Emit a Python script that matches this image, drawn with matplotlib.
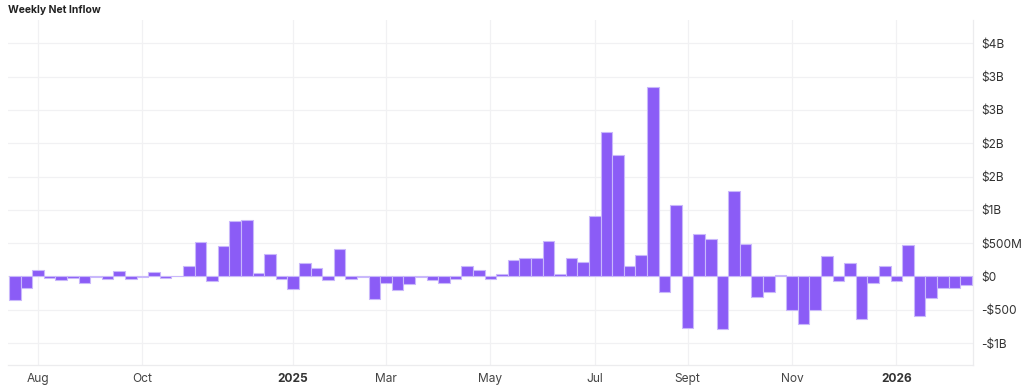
import pandas as pd
import matplotlib.pyplot as plt

plt.rcParams['font.family'] = ['Inter', 'DejaVu Sans']

# weekly net inflow, billions USD, weeks starting Mon 2024-07-22
weeks = pd.date_range('2024-07-22', periods=83, freq='7D')
inflow = [
    -0.35, -0.175, 0.10, -0.02, -0.05, -0.02, -0.10, -0.015, -0.04, 0.08,
    -0.04, -0.01, 0.07, -0.03, 0.01, 0.15, 0.51, -0.075, 0.46, 0.83,
    0.85, 0.05, 0.34, -0.045, -0.19, 0.205, 0.13, -0.05, 0.415, -0.04,
    -0.01, -0.335, -0.105, -0.20, -0.11, -0.01, -0.06, -0.095, -0.04, 0.15,
    0.10, -0.04, 0.04, 0.25, 0.28, 0.28, 0.53, 0.04, 0.28, 0.21,
    0.90, 2.17, 1.83, 0.15, 0.32, 2.84, -0.23, 1.075, -0.78, 0.63,
    0.555, -0.79, 1.29, 0.49, -0.305, -0.24, 0.015, -0.50, -0.72, -0.50,
    0.31, -0.07, 0.205, -0.64, -0.105, 0.16, -0.07, 0.47, -0.60, -0.33,
    -0.17, -0.17, -0.125,
]

y_ticks = [-1, -0.5, 0, 0.5, 1, 1.5, 2, 2.5, 3, 3.5]
y_labels = ['-$1B', '-$500', '$0', '$500M', '$1B', '$2B', '$2B', '$3B', '$3B', '$4B']

# x ticks: first week of every second month
tick_months = ['2024-08', '2024-10', '2025-01', '2025-03', '2025-05',
               '2025-07', '2025-09', '2025-11', '2026-01']
tick_labels = ['Aug', 'Oct', '2025', 'Mar', 'May', 'Jul', 'Sept', 'Nov', '2026']

month_str = weeks.strftime('%Y-%m')
tick_pos = [list(month_str).index(m) for m in tick_months]

fig = plt.figure(figsize=(10.24, 3.92), dpi=100)
ax = fig.add_axes([8 / 1024, 27 / 392, 965 / 1024, 345 / 392])

x = list(range(len(inflow)))
ax.bar(x, inflow, width=1.0, color='#8b5cf6', edgecolor='#c9b8fb',
       linewidth=0.8, zorder=3)

ax.set_xlim(-0.59, 82.6)
ax.set_ylim(-1.33, 3.85)

ax.set_yticks(y_ticks)
ax.set_yticklabels(y_labels)
ax.yaxis.tick_right()
ax.tick_params(axis='y', length=0, pad=6, labelsize=8.6, labelcolor='#333333')

ax.set_xticks(tick_pos)
ax.set_xticklabels(tick_labels)
ax.tick_params(axis='x', length=0, pad=6, labelsize=8.6, labelcolor='#444444')
for lbl in ax.get_xticklabels():
    if lbl.get_text().isdigit():
        lbl.set_fontweight('bold')
        lbl.set_color('#333333')

ax.grid(True, color='#f1f1f3', linewidth=0.9, zorder=0)
for side in ['top', 'left']:
    ax.spines[side].set_visible(False)
for side in ['right', 'bottom']:
    ax.spines[side].set_color('#ececee')
    ax.spines[side].set_linewidth(0.9)

fig.text(8 / 1024, 1 - 10 / 392, 'Weekly Net Inflow', fontsize=7.5,
         fontweight='bold', color='#222222', va='center', ha='left')

fig.savefig('out.png', dpi=100, facecolor='white')
